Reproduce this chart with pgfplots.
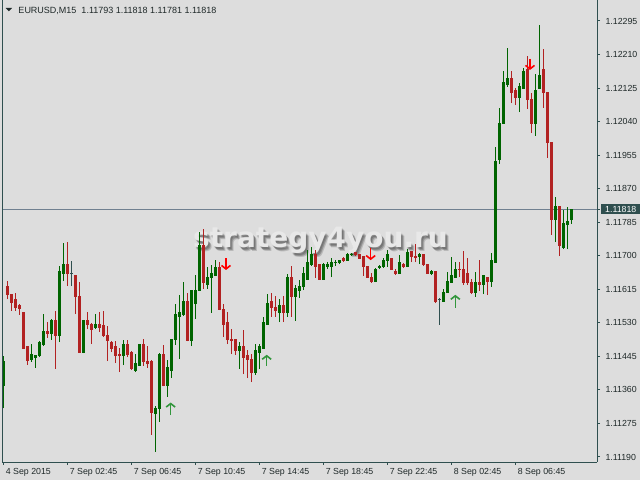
\documentclass[border=0pt]{standalone}
\usepackage{fontspec}
\setmainfont{Liberation Sans}
\newfontfamily\wmfont{DejaVu Sans}
\usepackage{pgfplots}
\usepackage{pgfplotstable}
\pgfplotsset{compat=1.18}
\usetikzlibrary{arrows.meta}
\definecolor{bg}{RGB}{221,221,221}
\definecolor{frame}{RGB}{47,79,79}
\definecolor{bull}{RGB}{0,100,0}
\definecolor{bear}{RGB}{178,34,34}
\definecolor{doji}{RGB}{47,79,79}
\definecolor{pline}{RGB}{112,128,144}
\definecolor{txt}{RGB}{30,40,40}
\definecolor{uparrow}{RGB}{50,150,60}
\definecolor{dnarrow}{RGB}{255,0,0}
\definecolor{wmlight}{RGB}{232,232,232}

\pgfplotstableread{
j o h l c
0 1.11371 1.11446 1.11313 1.11433
7 1.11438 1.11476 1.11432 1.11449
8 1.11442 1.11449 1.11416 1.11447
9 1.11446 1.11484 1.11443 1.11479
10 1.11476 1.11552 1.11471 1.11507
12 1.11502 1.11540 1.11487 1.11535
14 1.11497 1.11674 1.11481 1.11659
15 1.11654 1.11732 1.11636 1.11679
20 1.11454 1.11537 1.11453 1.11535
23 1.11517 1.11552 1.11514 1.11527
30 1.11446 1.11487 1.11423 1.11476
33 1.11408 1.11451 1.11405 1.11428
34 1.11423 1.11476 1.11422 1.11474
38 1.11299 1.11319 1.11203 1.11314
39 1.11314 1.11454 1.11279 1.11449
41 1.11372 1.11436 1.11343 1.11416
42 1.11410 1.11488 1.11391 1.11487
43 1.11487 1.11578 1.11474 1.11550
44 1.11547 1.11601 1.11438 1.11557
45 1.11552 1.11634 1.11547 1.11585
47 1.11484 1.11614 1.11471 1.11613
48 1.11578 1.11651 1.11540 1.11613
49 1.11613 1.11760 1.11612 1.11725
51 1.11628 1.11672 1.11616 1.11646
52 1.11644 1.11677 1.11555 1.11654
53 1.11651 1.11689 1.11650 1.11669
59 1.11459 1.11481 1.11413 1.11469
63 1.11403 1.11476 1.11398 1.11459
64 1.11456 1.11476 1.11413 1.11471
65 1.11466 1.11545 1.11465 1.11532
66 1.11527 1.11603 1.11526 1.11578
69 1.11557 1.11590 1.11532 1.11575
71 1.11555 1.11654 1.11545 1.11644
73 1.11596 1.11626 1.11535 1.11616
74 1.11613 1.11639 1.11593 1.11623
75 1.11621 1.11672 1.11613 1.11656
76 1.11641 1.11715 1.11639 1.11684
77 1.11679 1.11722 1.11674 1.11702
80 1.11641 1.11682 1.11639 1.11679
81 1.11674 1.11684 1.11666 1.11677
82 1.11672 1.11694 1.11646 1.11684
83 1.11682 1.11689 1.11674 1.11684
84 1.11682 1.11689 1.11679 1.11687
86 1.11689 1.11707 1.11687 1.11702
87 1.11702 1.11707 1.11699 1.11704
93 1.11634 1.11669 1.11633 1.11666
94 1.11669 1.11677 1.11666 1.11674
95 1.11672 1.11694 1.11669 1.11687
96 1.11687 1.11715 1.11672 1.11702
99 1.11656 1.11702 1.11655 1.11684
101 1.11672 1.11717 1.11671 1.11707
104 1.11697 1.11707 1.11679 1.11702
107 1.11656 1.11664 1.11651 1.11659
110 1.11585 1.11616 1.11583 1.11608
111 1.11608 1.11659 1.11607 1.11636
112 1.11633 1.11697 1.11631 1.11649
113 1.11646 1.11684 1.11644 1.11666
118 1.11606 1.11659 1.11596 1.11633
120 1.11628 1.11650 1.11603 1.11649
122 1.11636 1.11707 1.11621 1.11689
123 1.11684 1.11976 1.11683 1.11938
124 1.11943 1.12075 1.11933 1.12036
125 1.12036 1.12168 1.12035 1.12140
126 1.12133 1.12227 1.12128 1.12148
129 1.12100 1.12138 1.12064 1.12128
130 1.12125 1.12176 1.12124 1.12168
133 1.12034 1.12161 1.12004 1.12120
134 1.12125 1.12285 1.12124 1.12158
138 1.11793 1.11849 1.11735 1.11824
140 1.11722 1.11816 1.11717 1.11781
141 1.11778 1.11824 1.11717 1.11786
142 1.11793 1.11818 1.11781 1.11818
}\bulltable

\pgfplotstableread{
j o h l c
1 1.11623 1.11636 1.11590 1.11601
2 1.11601 1.11603 1.11561 1.11581
3 1.11588 1.11606 1.11560 1.11568
4 1.11573 1.11578 1.11551 1.11566
5 1.11555 1.11556 1.11464 1.11466
6 1.11471 1.11472 1.11424 1.11434
11 1.11509 1.11532 1.11492 1.11502
13 1.11535 1.11560 1.11413 1.11499
16 1.11677 1.11735 1.11623 1.11654
18 1.11651 1.11652 1.11552 1.11596
19 1.11596 1.11634 1.11454 1.11456
21 1.11535 1.11557 1.11514 1.11525
22 1.11525 1.11530 1.11476 1.11514
24 1.11527 1.11557 1.11507 1.11517
25 1.11522 1.11560 1.11494 1.11497
26 1.11497 1.11522 1.11433 1.11484
27 1.11481 1.11484 1.11456 1.11464
28 1.11471 1.11484 1.11428 1.11446
29 1.11451 1.11466 1.11405 1.11446
31 1.11476 1.11487 1.11443 1.11451
32 1.11454 1.11459 1.11410 1.11413
35 1.11474 1.11489 1.11421 1.11431
36 1.11433 1.11471 1.11416 1.11428
37 1.11431 1.11436 1.11246 1.11302
40 1.11449 1.11474 1.11369 1.11370
46 1.11585 1.11606 1.11483 1.11484
50 1.11727 1.11768 1.11616 1.11631
54 1.11669 1.11684 1.11562 1.11563
55 1.11565 1.11578 1.11494 1.11527
56 1.11532 1.11557 1.11476 1.11487
57 1.11489 1.11514 1.11451 1.11484
58 1.11487 1.11489 1.11449 1.11461
60 1.11471 1.11512 1.11400 1.11441
61 1.11446 1.11461 1.11390 1.11436
62 1.11438 1.11451 1.11380 1.11403
67 1.11583 1.11606 1.11545 1.11570
68 1.11570 1.11598 1.11545 1.11560
70 1.11575 1.11598 1.11532 1.11555
72 1.11644 1.11674 1.11545 1.11598
78 1.11702 1.11715 1.11644 1.11674
79 1.11677 1.11678 1.11639 1.11641
85 1.11694 1.11697 1.11684 1.11687
88 1.11707 1.11708 1.11699 1.11702
89 1.11702 1.11704 1.11692 1.11694
90 1.11697 1.11699 1.11649 1.11672
91 1.11672 1.11674 1.11645 1.11646
92 1.11646 1.11656 1.11631 1.11634
97 1.11692 1.11694 1.11664 1.11666
98 1.11661 1.11666 1.11651 1.11656
100 1.11679 1.11682 1.11669 1.11672
102 1.11710 1.11712 1.11684 1.11697
103 1.11697 1.11730 1.11684 1.11696
105 1.11704 1.11705 1.11674 1.11677
106 1.11679 1.11680 1.11654 1.11656
108 1.11659 1.11660 1.11580 1.11585
114 1.11666 1.11684 1.11646 1.11664
115 1.11664 1.11712 1.11626 1.11631
116 1.11656 1.11694 1.11626 1.11631
117 1.11631 1.11641 1.11603 1.11606
119 1.11631 1.11689 1.11611 1.11626
121 1.11644 1.11646 1.11601 1.11636
127 1.12148 1.12168 1.12087 1.12115
128 1.12118 1.12125 1.12082 1.12102
131 1.12173 1.12206 1.12072 1.12095
132 1.12097 1.12113 1.12011 1.12036
135 1.12171 1.12224 1.12075 1.12115
136 1.12115 1.12116 1.11948 1.11986
137 1.11986 1.11988 1.11753 1.11793
139 1.11826 1.11827 1.11699 1.11725
}\beartable

\pgfplotstableread{
j o h l c
17 1.11656 1.11687 1.11623 1.11656
109 1.11588 1.11593 1.11525 1.11588
}\dojitable

\pgfplotstableread{
j y v
55.67 1.11694 -0.00030
91.84 1.11720 -0.00031
131.67 1.12199 -0.00028
}\downarrows

\pgfplotstableread{
j y v
41.84 1.11296 0.00032
65.84 1.11421 0.00028
113.00 1.11568 0.00033
}\uparrows

\begin{document}
\begin{tikzpicture}
\useasboundingbox (0,0) rectangle (640bp,480bp);
\fill[bg] (0,0) rectangle (640bp,480bp);
% watermark: soft shadow then light text
\foreach \dx/\dy/\op in {3.2/-3.2/0.16,2.2/-2.2/0.22,1.2/-1.2/0.18}{
  \node[anchor=base west, inner sep=0pt, text=black, opacity=\op]
    at (193bp+\dx bp,232bp+\dy bp) {\wmfont\bfseries\fontsize{28bp}{30bp}\selectfont strategy4you.ru};
}
\node[anchor=base west, inner sep=0pt, text=wmlight]
  at (193bp,232bp) {\wmfont\bfseries\fontsize{28bp}{30bp}\selectfont strategy4you.ru};
% title
\fill[txt] (5.7bp,472bp) -- (12bp,472bp) -- (8.85bp,468.7bp) -- cycle;
\node[anchor=base west, inner sep=0pt, text=txt] at (18.3bp,466.5bp)
  {\fontsize{9bp}{11bp}\selectfont EURUSD,M15\ \ 1.11793 1.11818 1.11781 1.11818};
\begin{axis}[
  at={(2bp,18bp)}, anchor=south west,
  width=595bp, height=462bp, scale only axis,
  xmin=-0.33, xmax=148.42, ymin=1.111773, ymax=1.123482,
  axis x line*=bottom, axis y line*=right,
  axis line style={draw=frame, line width=1bp},
  tick align=outside, major tick length=3bp,
  tick style={draw=frame, line width=1bp},
  xtick={0,16,32,48,64,80,96,112,128},
  xticklabels={4 Sep 2015, 7 Sep 02:45, 7 Sep 06:45, 7 Sep 10:45, 7 Sep 14:45, 7 Sep 18:45, 7 Sep 22:45, 8 Sep 02:45, 8 Sep 06:45},
  ytick={1.11190,1.11275,1.11360,1.11445,1.11530,1.11615,1.11700,1.11785,1.11870,1.11955,1.12040,1.12125,1.12210,1.12295},
  yticklabels={1.11190,1.11275,1.11360,1.11445,1.11530,1.11615,1.11700,1.11785,1.11870,1.11955,1.12040,1.12125,1.12210,1.12295},
  ticklabel style={font=\fontsize{8.8bp}{11bp}\selectfont, text=txt},
  xticklabel style={anchor=north west, xshift=-1bp},
  yticklabel style={anchor=west, xshift=2bp},
  extra y ticks={1.11818}, extra y tick labels={1.11818},
  extra y tick style={yticklabel style={fill=frame, text=white, inner xsep=4bp, inner ysep=2bp, xshift=-1bp}},
  clip mode=individual,
]
% current price line
\addplot[pline, line width=1bp] coordinates {(-0.33,1.11818) (148.42,1.11818)};
% bullish candles
\addplot[bull, line width=1bp, quiver={u=0, v=\thisrow{h}-\thisrow{l}}] table[x=j, y=l] {\bulltable};
\addplot[bull, line width=3bp, quiver={u=0, v=\thisrow{c}-\thisrow{o}}] table[x=j, y=o] {\bulltable};
\addplot[bull, only marks, mark=-, mark size=1.5bp, mark options={line width=1bp}] table[x=j, y=o] {\bulltable};
\addplot[bull, only marks, mark=-, mark size=1.5bp, mark options={line width=1bp}] table[x=j, y=c] {\bulltable};
% bearish candles
\addplot[bear, line width=1bp, quiver={u=0, v=\thisrow{h}-\thisrow{l}}] table[x=j, y=l] {\beartable};
\addplot[bear, line width=3bp, quiver={u=0, v=\thisrow{c}-\thisrow{o}}] table[x=j, y=o] {\beartable};
\addplot[bear, only marks, mark=-, mark size=1.5bp, mark options={line width=1bp}] table[x=j, y=o] {\beartable};
\addplot[bear, only marks, mark=-, mark size=1.5bp, mark options={line width=1bp}] table[x=j, y=c] {\beartable};
% doji
\addplot[doji, line width=1bp, quiver={u=0, v=\thisrow{h}-\thisrow{l}}] table[x=j, y=l] {\dojitable};
\addplot[doji, only marks, mark=-, mark size=1.5bp, mark options={line width=1bp}] table[x=j, y=o] {\dojitable};
% signal arrows
\addplot[dnarrow, line width=1.6bp, -{Straight Barb[length=3.5bp,width=9bp]}, quiver={u=0, v=\thisrow{v}}] table[x=j, y=y] {\downarrows};
\addplot[uparrow, line width=1.6bp, -{Straight Barb[length=3.5bp,width=9bp]}, quiver={u=0, v=\thisrow{v}}] table[x=j, y=y] {\uparrows};
\end{axis}
\draw[frame, line width=1bp] (2bp,17.5bp) -- (2bp,480bp);
\end{tikzpicture}
\end{document}
